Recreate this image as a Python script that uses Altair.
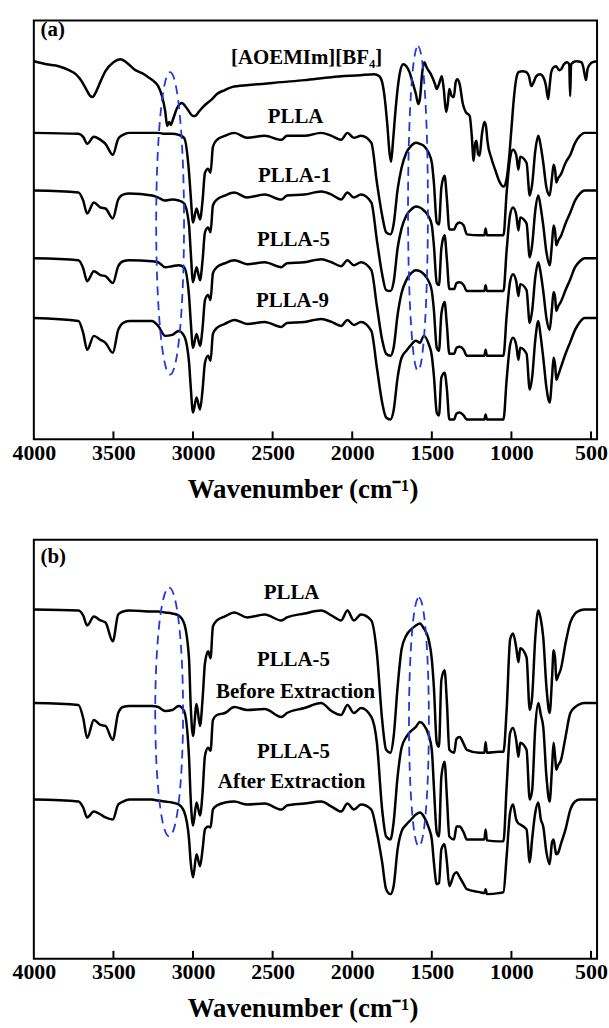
import altair as alt
import pandas as pd

# ---------------- data ----------------
# shared wavenumber grid (cm-1) for the PLLA-type spectra
WN = [4000, 3720, 3690, 3665, 3623, 3581, 3550, 3504, 3470, 3440,
      3400, 3258, 3219, 3175, 3131, 3090, 3056, 3025, 3015, 3000,
      2978, 2956, 2940, 2925, 2905, 2890, 2875, 2850, 2800, 2740,
      2660, 2550, 2445, 2410, 2300, 2195, 2130, 2070, 2030, 1990,
      1945, 1880, 1845, 1812, 1787, 1760, 1740, 1715, 1690, 1660,
      1630, 1600, 1575, 1550, 1520, 1500, 1487, 1469, 1455, 1440,
      1420, 1405, 1390, 1360, 1345, 1325, 1300, 1280, 1200, 1170,
      1162, 1154, 1080, 1050, 1030, 1008, 990, 970, 956, 945,
      905, 885, 870, 850, 831, 815, 800, 780, 760, 745,
      735, 725, 718, 705, 690, 660, 630, 600, 570, 540,
      500, 462]

# transmittance drop below each trace's own top level (a.u.)
PLLA_A = [0, 1, 4, 11, 4, 7, 11, 22, 6, 2,
          0, 0, 0, 1, 1, 2, 5, 40, 62, 90,
          76, 87, 68, 40, 36, 40, 14, 7, 3, 0,
          5, 3, 7, 3, 3, 0, 3, 7, 0, 5,
          3, 10, 50, 83, 100, 102, 92, 57, 35, 20,
          13, 10, 11, 13, 20, 30, 50, 90, 92, 55,
          43, 67, 97, 97, 92, 90, 93, 102, 103, 103,
          96, 103, 103, 103, 60, 25, 17, 22, 37, 24,
          30, 63, 52, 18, 3, 14, 30, 55, 63, 45,
          32, 38, 50, 45, 42, 30, 22, 10, 3, 0,
          0, 0]
PLLA1_A = [0, 2, 10, 23, 12, 17, 18, 28, 9, 4,
           3, 5, 7, 10, 9, 10, 13, 35, 60, 92,
           77, 90, 70, 42, 37, 42, 15, 9, 5, 2,
           7, 4, 9, 5, 4, 1, 4, 9, 2, 7,
           4, 12, 50, 84, 100, 101, 92, 58, 38, 25,
           19, 16, 17, 20, 26, 35, 55, 93, 95, 58,
           45, 70, 99, 99, 93, 92, 95, 101, 101, 101,
           95, 101, 101, 101, 60, 24, 17, 24, 40, 27,
           33, 67, 55, 20, 5, 18, 35, 62, 75, 53,
           35, 42, 55, 50, 46, 33, 22, 10, 3, 0,
           0, 0]
PLLA5_A = [0, 2, 10, 23, 13, 17, 18, 25, 8, 3,
           2, 3, 4, 9, 8, 7, 9, 38, 62, 90,
           76, 88, 70, 42, 37, 42, 15, 9, 5, 2,
           6, 4, 9, 5, 4, 1, 4, 8, 2, 7,
           4, 12, 48, 82, 96, 98, 90, 57, 35, 22,
           15, 12, 13, 16, 23, 33, 52, 90, 93, 56,
           44, 68, 96, 96, 90, 89, 92, 98, 98, 98,
           92, 98, 98, 98, 58, 23, 16, 23, 38, 26,
           32, 65, 53, 19, 4, 16, 33, 60, 72, 50,
           34, 40, 53, 48, 44, 32, 21, 9, 3, 0,
           0, 0]
PLLA9_A = [0, 3, 15, 32, 18, 22, 25, 35, 12, 5,
           3, 3, 8, 18, 17, 13, 18, 45, 68, 95,
           80, 92, 72, 45, 38, 43, 16, 10, 6, 2,
           6, 4, 9, 5, 4, 1, 4, 8, 2, 7,
           4, 13, 50, 85, 100, 102, 93, 60, 40, 33,
           27, 23, 25, 18, 26, 38, 58, 95, 98, 60,
           55, 72, 102, 102, 96, 95, 98, 102, 102, 102,
           97, 102, 102, 102, 62, 27, 20, 27, 42, 30,
           36, 72, 60, 22, 3, 20, 40, 70, 85, 60,
           40, 48, 62, 57, 50, 36, 24, 12, 4, 0,
           0, 0]
PLLA_B = [0, 1, 6, 16, 7, 11, 13, 32, 5, 2,
          1, 2, 2, 3, 4, 6, 14, 50, 95, 127,
          95, 117, 90, 54, 42, 49, 17, 11, 7, 3,
          8, 5, 11, 8, 4, 1, 6, 11, 1, 11,
          5, 11, 44, 111, 141, 144, 128, 78, 40, 26,
          20, 16, 14, 19, 30, 50, 78, 134, 138, 71,
          61, 94, 141, 144, 130, 128, 135, 141, 144, 144,
          133, 144, 143, 143, 101, 30, 24, 38, 53, 39,
          48, 101, 88, 28, 1, 10, 28, 78, 104, 70,
          41, 50, 71, 66, 60, 34, 13, 4, 1, 0,
          0, 0]
PLLA5_BEFORE = [0, 2, 15, 35, 17, 22, 23, 37, 10, 4,
                3, 3, 4, 8, 7, 3, 8, 55, 95, 123,
                100, 113, 90, 53, 45, 48, 17, 12, 10, 4,
                7, 6, 14, 10, 5, 0, 8, 12, 2, 10,
                5, 14, 40, 107, 134, 137, 120, 74, 45, 34,
                28, 24, 19, 22, 32, 47, 84, 130, 134, 74,
                59, 95, 134, 137, 124, 124, 130, 137, 137, 137,
                127, 138, 139, 139, 84, 30, 25, 37, 54, 40,
                47, 97, 88, 24, 0, 12, 24, 74, 99, 65,
                40, 55, 67, 62, 58, 34, 10, 4, 1, 0,
                0, 0]
PLLA5_AFTER = [0, 2, 8, 18, 12, 15, 18, 20, 5, 2,
               0, 0, 1, 2, 3, 5, 12, 40, 62, 78,
               55, 67, 50, 30, 27, 28, 10, 6, 3, 2,
               5, 4, 10, 6, 4, 2, 7, 12, 4, 10,
               5, 10, 33, 63, 90, 95, 87, 50, 32, 25,
               20, 15, 13, 17, 28, 40, 63, 85, 84, 50,
               45, 63, 87, 75, 73, 78, 85, 90, 93, 94,
               90, 95, 94, 93, 57, 13, 5, 20, 24, 25,
               30, 63, 40, 13, 3, 20, 27, 53, 65, 43,
               40, 50, 55, 53, 45, 30, 10, 2, 0, 0,
               0, 0]

# top level of each stacked trace (a.u.)
TOP_A = {"PLLA": 308, "PLLA-1": 250, "PLLA-5": 182, "PLLA-9": 122}
TOP_B = {"PLLA": 351, "PLLA-5 before": 257, "PLLA-5 after": 160}

# ionic liquid spectrum [AOEMIm][BF4] (wavenumber, a.u.)
IL = [(4000, 380), (3920, 377), (3844, 375), (3780, 371), (3737, 367), (3700, 360),
      (3675, 353), (3645, 345), (3631, 344), (3610, 349), (3580, 360), (3550, 370),
      (3500, 379), (3456, 382), (3420, 379), (3362, 371), (3320, 368), (3281, 364),
      (3240, 359), (3219, 355), (3195, 345), (3175, 330), (3162, 315), (3150, 319),
      (3140, 316), (3125, 322), (3100, 333), (3070, 338), (3040, 333), (3000, 325),
      (2987, 325), (2960, 330), (2925, 336), (2880, 342), (2850, 347), (2800, 351),
      (2756, 354), (2650, 356), (2444, 359), (2300, 361), (2131, 364), (1950, 366),
      (1862, 367), (1830, 365), (1812, 359), (1795, 342), (1780, 317), (1765, 287),
      (1756, 279), (1745, 297), (1730, 327), (1715, 352), (1700, 369), (1680, 377),
      (1660, 375), (1640, 369), (1625, 361), (1600, 347), (1585, 337), (1575, 342),
      (1560, 369), (1548, 379), (1530, 373), (1506, 367), (1480, 357), (1469, 352),
      (1455, 357), (1437, 365), (1425, 352), (1410, 329), (1400, 337), (1390, 352),
      (1375, 345), (1362, 344), (1350, 359), (1340, 362), (1325, 357), (1305, 337),
      (1287, 329), (1262, 325), (1250, 307), (1237, 280), (1228, 297), (1219, 300),
      (1210, 287), (1200, 285), (1185, 307), (1170, 319), (1160, 315), (1150, 299),
      (1125, 282), (1100, 270), (1075, 259), (1050, 254), (1030, 262), (1015, 282),
      (1000, 312), (985, 342), (970, 362), (955, 369), (930, 370), (906, 369),
      (890, 365), (875, 355), (860, 359), (844, 365), (820, 367), (800, 364),
      (785, 357), (769, 342), (760, 355), (750, 369), (735, 374), (719, 375),
      (700, 371), (687, 372), (670, 377), (650, 379), (637, 377), (631, 345),
      (625, 377), (594, 380), (560, 379), (550, 375), (538, 365), (531, 361),
      (522, 372), (506, 377), (490, 379), (462, 380)]

TICKS = [4000, 3500, 3000, 2500, 2000, 1500, 1000, 500]

# text annotations (label, wavenumber, a.u.)
LABELS_A = [("[AOEMIm][BF₄]", 2287, 383), ("PLLA", 2356, 324), ("PLLA-1", 2362, 265),
            ("PLLA-5", 2369, 200), ("PLLA-9", 2375, 139)]
LABELS_B = [("PLLA", 2381, 368), ("PLLA-5", 2369, 300), ("Before Extraction", 2356, 268),
            ("PLLA-5", 2369, 208), ("After Extraction", 2381, 178)]
PANEL_TAGS = [("(a)", 3958, 411), ("(b)", 3958, 404)]

# highlighted regions (centre wavenumber, centre a.u.)
ELLIPSES_A = [(3144, 217), (1587, 232)]
ELLIPSES_B = [(3150, 248), (1581, 238)]

# ---------------- chart ----------------
assert all(len(l) == len(WN) for l in [PLLA_A, PLLA1_A, PLLA5_A, PLLA9_A,
                                        PLLA_B, PLLA5_BEFORE, PLLA5_AFTER])

W, H = 566, 421
FONT = "Liberation Serif"
BLUE = "#2336e0"

rows_a = []
for name, dep in [("PLLA", PLLA_A), ("PLLA-1", PLLA1_A), ("PLLA-5", PLLA5_A), ("PLLA-9", PLLA9_A)]:
    for w, d in zip(WN, dep):
        rows_a.append({"wn": w, "val": TOP_A[name] - d, "series": name})
for w, v in IL:
    rows_a.append({"wn": w, "val": v, "series": "IL"})
df_a = pd.DataFrame(rows_a)

rows_b = []
for name, dep in [("PLLA", PLLA_B), ("PLLA-5 before", PLLA5_BEFORE), ("PLLA-5 after", PLLA5_AFTER)]:
    for w, d in zip(WN, dep):
        rows_b.append({"wn": w, "val": TOP_B[name] - d, "series": name})
df_b = pd.DataFrame(rows_b)

xs = alt.Scale(domain=[4000, 462], nice=False, zero=False)
ys = alt.Scale(domain=[0, H], nice=False, zero=False)
xaxis = alt.Axis(values=TICKS, format="d", title="Wavenumber (cm⁻¹)", ticks=False,
                 domain=False, grid=False, labelFlush=False, labelOverlap=False,
                 labelFont=FONT, labelFontSize=22, labelFontWeight="bold", labelColor="black",
                 labelPadding=3, titleFont=FONT, titleFontSize=27, titleFontWeight="bold",
                 titleColor="black", titlePadding=13, titleX=270)
X = alt.X("wn:Q", scale=xs, axis=xaxis)
Y = alt.Y("val:Q", scale=ys, axis=None)


def ellipse_path(r):
    k = 0.5523
    a = r
    return (f"M0,-1 C{k*a:.4f},-1 {a:.4f},{-k:.4f} {a:.4f},0 "
            f"C{a:.4f},{k:.4f} {k*a:.4f},1 0,1 "
            f"C{-k*a:.4f},1 {-a:.4f},{k:.4f} {-a:.4f},0 "
            f"C{-a:.4f},{-k:.4f} {-k*a:.4f},-1 0,-1 Z")


def ellipse_layer(center, rx, ry):
    df = pd.DataFrame({"wn": [center[0]], "val": [center[1]]})
    return alt.Chart(df).mark_point(
        shape=ellipse_path(rx / ry), size=(2 * ry) ** 2, filled=False, opacity=1,
        stroke=BLUE, strokeWidth=1.8, strokeDash=[9, 6]
    ).encode(x=X, y=Y)


def panel(df, labels, tag, ellipses, radii):
    lines = alt.Chart(df).mark_line(color="black", strokeWidth=2.5, interpolate="monotone").encode(
        x=X, y=Y, detail="series:N")
    tick_df = pd.DataFrame({"wn": TICKS[1:]})
    ticks = alt.Chart(tick_df).mark_rule(color="black", strokeWidth=2).encode(
        x=X, y=alt.value(H), y2=alt.value(H - 8))
    ldf = pd.DataFrame(labels, columns=["label", "wn", "val"])
    texts = alt.Chart(ldf).mark_text(font=FONT, fontSize=21, fontWeight="bold", align="center",
                                     baseline="middle", color="black").encode(x=X, y=Y, text="label:N")
    tdf = pd.DataFrame([tag], columns=["label", "wn", "val"])
    tagt = alt.Chart(tdf).mark_text(font=FONT, fontSize=21, fontWeight="bold", align="left",
                                    baseline="middle", color="black").encode(x=X, y=Y, text="label:N")
    ells = [ellipse_layer(c, rx, ry) for c, (rx, ry) in zip(ellipses, radii)]
    return alt.layer(lines, ticks, texts, tagt, *ells).properties(width=W, height=H)


pa = panel(df_a, LABELS_A, PANEL_TAGS[0], ELLIPSES_A, [(14, 152), (10, 163)])
pb = panel(df_b, LABELS_B, PANEL_TAGS[1], ELLIPSES_B, [(14, 125), (10, 125)])

chart = alt.vconcat(pa, pb, spacing=101, bounds="flush").properties(
    padding={"left": 11, "top": 15, "right": 0, "bottom": 0},
    background="white"
).configure_view(stroke="black", strokeWidth=2)

chart.save("out.html", embed_options={"renderer": "svg", "actions": False})
